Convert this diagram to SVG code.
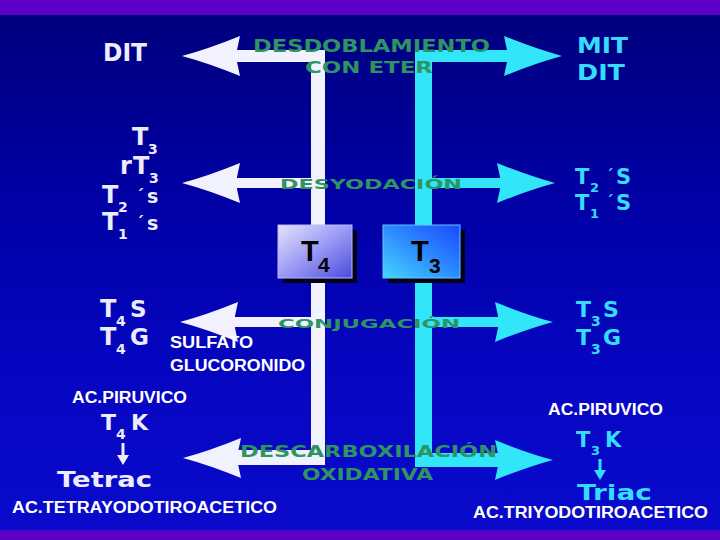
<svg xmlns="http://www.w3.org/2000/svg" xmlns:xlink="http://www.w3.org/1999/xlink" width="720" height="540" viewBox="0 0 720 540">
<defs>
<linearGradient id="bg" x1="0" y1="0" x2="0" y2="1">
<stop offset="0" stop-color="#00007e"/>
<stop offset="0.35" stop-color="#0000a4"/>
<stop offset="0.7" stop-color="#0606c2"/>
<stop offset="1" stop-color="#0a0acc"/>
</linearGradient>
<linearGradient id="gT4" x1="0" y1="0" x2="1" y2="1">
<stop offset="0" stop-color="#e4e4ff"/>
<stop offset="0.5" stop-color="#9a9af4"/>
<stop offset="1" stop-color="#4a4ae0"/>
</linearGradient>
<linearGradient id="gT3" x1="0" y1="1" x2="1" y2="0">
<stop offset="0" stop-color="#48d4ff"/>
<stop offset="0.5" stop-color="#2c8cff"/>
<stop offset="1" stop-color="#1a48ff"/>
</linearGradient>
<path id="headL" d="M0,0 Q26,-7 58,-20 L55,-6 L55,6 L58,20 Q26,7 0,0 Z"/>
<style>
.w{fill:#f2f2ff}
.c{fill:#30e6f8}
.g{fill:#2e9462;font-family:"DejaVu Sans","Liberation Sans",sans-serif;font-weight:bold}
.wt{fill:#ececff;font-family:"DejaVu Sans","Liberation Sans",sans-serif;font-weight:bold}
.ct{fill:#34dcff;font-family:"DejaVu Sans","Liberation Sans",sans-serif;font-weight:bold}
.lb{fill:#ffffff;font-family:"Liberation Sans",Arial,sans-serif;font-weight:bold;font-size:16px}
.bx{fill:#000000;font-family:"Liberation Sans",Arial,sans-serif;font-weight:bold}
</style>
</defs>
<rect x="0" y="0" width="720" height="540" fill="#5c00c8"/>
<rect x="0" y="15" width="720" height="515" fill="url(#bg)"/>

<g id="connectors">
<g class="w">
<rect x="232" y="50" width="93" height="12"/>
<rect x="311" y="50" width="14" height="415"/>
<rect x="232" y="178" width="93" height="10"/>
<rect x="232" y="317" width="93" height="10"/>
<rect x="232" y="450" width="93" height="15"/>
<use xlink:href="#headL" transform="translate(182,56)"/>
<use xlink:href="#headL" transform="translate(182,183)"/>
<use xlink:href="#headL" transform="translate(180,322)"/>
<use xlink:href="#headL" transform="translate(183,458)"/>
</g>
<g class="c">
<rect x="415" y="50" width="95" height="12"/>
<rect x="415" y="50" width="17" height="417"/>
<rect x="415" y="178" width="87" height="10"/>
<rect x="415" y="317" width="85" height="10"/>
<rect x="415" y="453" width="87" height="14"/>
<use xlink:href="#headL" transform="translate(562,56) scale(-1,1)"/>
<use xlink:href="#headL" transform="translate(555,183) scale(-1,1)"/>
<use xlink:href="#headL" transform="translate(553,322) scale(-1,1)"/>
<use xlink:href="#headL" transform="translate(553,460) scale(-1,1)"/>
</g>
</g>

<g id="labels-process">
<text class="g" x="253" y="52" font-size="18" textLength="237" lengthAdjust="spacingAndGlyphs">DESDOBLAMIENTO</text>
<text class="g" x="305" y="73" font-size="16" textLength="128" lengthAdjust="spacingAndGlyphs">CON ETER</text>
<text class="g" x="280" y="189" font-size="14" textLength="182" lengthAdjust="spacingAndGlyphs">DESYODACIÓN</text>
<text class="g" x="278" y="328" font-size="13" textLength="182" lengthAdjust="spacingAndGlyphs">CONJUGACIÓN</text>
<text class="g" x="240" y="457" font-size="16" textLength="257" lengthAdjust="spacingAndGlyphs">DESCARBOXILACIÓN</text>
<text class="g" x="302" y="480" font-size="16" textLength="131" lengthAdjust="spacingAndGlyphs">OXIDATIVA</text>
</g>

<g id="node-T4">
<rect x="283" y="230" width="74" height="53" fill="#000018"/>
<rect x="278" y="225" width="74" height="53" fill="url(#gT4)" stroke="#b8b8ff" stroke-width="1"/>
<text class="bx" x="301" y="261" font-size="29">T<tspan x="318" y="272" font-size="21">4</tspan></text>
</g>

<g id="node-T3">
<rect x="388" y="230" width="77" height="53" fill="#000018"/>
<rect x="383" y="225" width="77" height="53" fill="url(#gT3)" stroke="#60c8ff" stroke-width="1"/>
<text class="bx" x="411" y="261" font-size="29">T<tspan x="429" y="273" font-size="21">3</tspan></text>
</g>

<g id="node-DIT-left">
<text class="wt" x="103" y="61" font-size="24" textLength="44" lengthAdjust="spacingAndGlyphs">DIT</text>
</g>

<g id="node-MIT-DIT">
<text class="ct" x="577" y="53" font-size="21" textLength="51" lengthAdjust="spacingAndGlyphs">MIT</text>
<text class="ct" x="577" y="80" font-size="22" textLength="48" lengthAdjust="spacingAndGlyphs">DIT</text>
</g>

<g id="node-deiod-left" class="wt">
<text x="132" y="145" font-size="24">T<tspan x="148" y="154" font-size="14">3</tspan></text>
<text x="120" y="174" font-size="24">r<tspan x="133">T</tspan><tspan x="149" y="183" font-size="14">3</tspan></text>
<text x="102" y="203" font-size="24">T<tspan x="118" y="212" font-size="14">2</tspan><tspan x="136" y="201" font-size="16">´</tspan><tspan x="147" y="203" font-size="19">s</tspan></text>
<text x="102" y="230" font-size="24">T<tspan x="118" y="239" font-size="14">1</tspan><tspan x="136" y="228" font-size="16">´</tspan><tspan x="147" y="230" font-size="19">s</tspan></text>
</g>

<g id="node-deiod-right" class="ct">
<text x="575" y="184" font-size="21">T<tspan x="590" y="192" font-size="13">2</tspan><tspan x="606" y="181" font-size="15">´</tspan><tspan x="616" y="184">S</tspan></text>
<text x="575" y="210" font-size="21">T<tspan x="590" y="218" font-size="13">1</tspan><tspan x="606" y="207" font-size="15">´</tspan><tspan x="616" y="210">S</tspan></text>
</g>

<g id="node-conj-left" class="wt">
<text x="100" y="317" font-size="24">T<tspan x="116" y="326" font-size="14">4</tspan><tspan x="130" y="317" font-size="23">S</tspan></text>
<text x="100" y="345" font-size="24">T<tspan x="116" y="354" font-size="14">4</tspan><tspan x="130" y="345" font-size="23">G</tspan></text>
</g>

<g id="node-conj-right" class="ct">
<text x="576" y="317" font-size="22">T<tspan x="591" y="326" font-size="14">3</tspan><tspan x="603" y="317">S</tspan></text>
<text x="576" y="345" font-size="22">T<tspan x="591" y="354" font-size="14">3</tspan><tspan x="603" y="345">G</tspan></text>
</g>

<g id="node-decarb-left">
<text class="wt" x="101" y="430" font-size="22">T<tspan x="116" y="439" font-size="14">4</tspan><tspan x="131" y="430">K</tspan></text>
<path d="M121.5,443 h3 v12 h4.5 l-6,10 l-6,-10 h4.5 z" fill="#ececff"/>
<text class="wt" x="57" y="487" font-size="22" textLength="95" lengthAdjust="spacingAndGlyphs">Tetrac</text>
</g>

<g id="node-decarb-right">
<text class="ct" x="576" y="447" font-size="21">T<tspan x="591" y="455" font-size="13">3</tspan><tspan x="605" y="447">K</tspan></text>
<path d="M598.5,459 h3 v11 h4.5 l-6,10 l-6,-10 h4.5 z" fill="#34dcff"/>
<text class="ct" x="577" y="500" font-size="21" textLength="75" lengthAdjust="spacingAndGlyphs">Triac</text>
</g>

<g id="notes">
<text class="lb" x="170" y="348" textLength="83" lengthAdjust="spacingAndGlyphs">SULFATO</text>
<text class="lb" x="170" y="371" textLength="135" lengthAdjust="spacingAndGlyphs">GLUCORONIDO</text>
<text class="lb" x="72" y="403" textLength="115" lengthAdjust="spacingAndGlyphs">AC.PIRUVICO</text>
<text class="lb" x="548" y="415" textLength="115" lengthAdjust="spacingAndGlyphs">AC.PIRUVICO</text>
<text class="lb" x="12" y="513" textLength="265" lengthAdjust="spacingAndGlyphs">AC.TETRAYODOTIROACETICO</text>
<text class="lb" x="473" y="518" textLength="235" lengthAdjust="spacingAndGlyphs">AC.TRIYODOTIROACETICO</text>
</g>
</svg>
